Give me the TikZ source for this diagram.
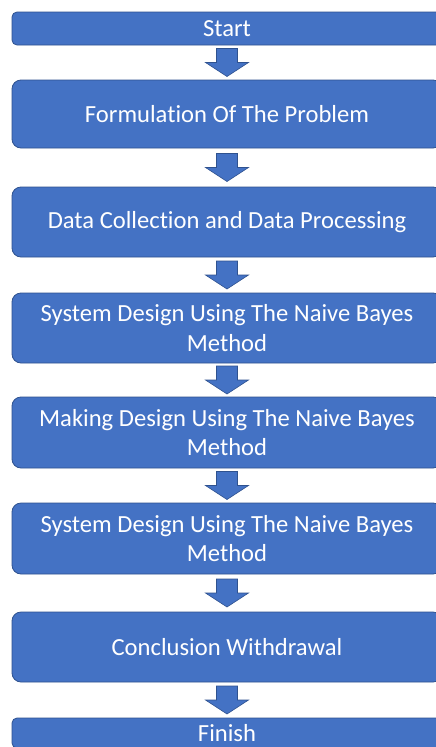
\documentclass[tikz,border=0pt]{standalone}
\usepackage{fontspec}
\setmainfont[Ligatures=NoCommon]{Carlito}
\usetikzlibrary{calc}
\definecolor{boxblue}{HTML}{4472C4}
\definecolor{edgeblue}{HTML}{2F528F}
\tikzset{
  stepbox/.style={draw=edgeblue, line width=0.8pt, fill=boxblue, text=white,
    rounded corners=9pt, minimum width=430pt, align=center,
    font=\fontsize{24.6}{29.5}\selectfont, inner sep=0pt},
  endbox/.style={stepbox, rounded corners=5pt},
  blockarrow/.style={draw=edgeblue, line width=0.6pt, fill=boxblue, line join=miter}
}
% draws a broad down-pointing arrow half way between two named nodes
\newcommand{\downarrowbetween}[3]{%
  \path (#1.south) -- coordinate[pos=0.5] (#3) (#2.north);
  \filldraw[blockarrow]
    ($(#3)+(-10.5,-14)$) -- ($(#3)+(10.5,-14)$) -- ($(#3)+(10.5,0)$) --
    ($(#3)+(21.5,0)$) -- ($(#3)+(0,14)$) -- ($(#3)+(-21.5,0)$) --
    ($(#3)+(-10.5,0)$) -- cycle;
}
\begin{document}
\begin{tikzpicture}[x=1pt,y=-1pt]
  \useasboundingbox (0,0) rectangle (436,747);
  \clip (0,0) rectangle (436,747);
  \fill[white] (0,0) rectangle (436,747);

  \node[endbox, minimum height=33pt] (start) at (227,28.5) {Start};
  \node[stepbox, minimum height=68pt] (problem) at (227,114) {Formulation Of The Problem};
  \node[stepbox, minimum height=70pt] (data) at (227,222) {Data Collection and Data Processing};
  \node[stepbox, minimum height=70pt] (design) at (227,328) {System Design Using The Naive Bayes\\Method};
  \node[stepbox, minimum height=71pt] (making) at (227,432.5) {Making Design Using The Naive Bayes\\Method};
  \node[stepbox, minimum height=71pt] (system) at (227,538.5) {System Design Using The Naive Bayes\\Method};
  \node[stepbox, minimum height=70pt] (conclusion) at (227,647) {Conclusion Withdrawal};
  \node[endbox, minimum height=30pt] (finish) at (227,733) {Finish};

  \downarrowbetween{start}{problem}{a1}
  \downarrowbetween{problem}{data}{a2}
  \downarrowbetween{data}{design}{a3}
  \downarrowbetween{design}{making}{a4}
  \downarrowbetween{making}{system}{a5}
  \downarrowbetween{system}{conclusion}{a6}
  \downarrowbetween{conclusion}{finish}{a7}
\end{tikzpicture}
\end{document}
